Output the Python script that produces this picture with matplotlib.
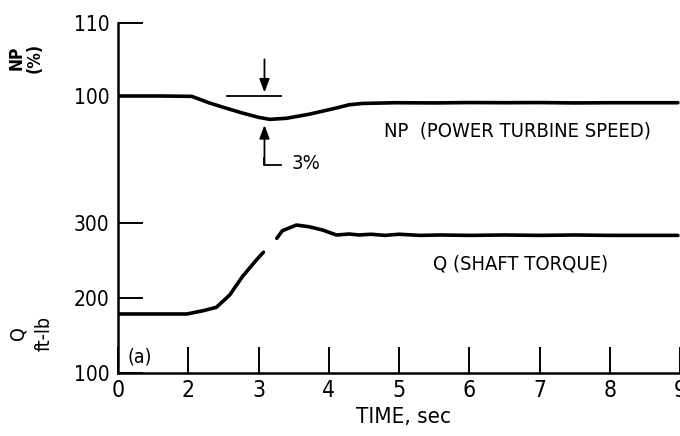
import numpy as np
import matplotlib
matplotlib.use("Agg")
import matplotlib.pyplot as plt

# ---- data ----
np_time = [1.0, 1.6, 2.05, 2.30, 2.55, 2.77, 3.0, 3.16, 3.40, 3.72, 4.11, 4.29, 4.48,
           4.96, 5.5, 6.0, 6.5, 7.0, 7.5, 8.0, 8.5, 8.97]
np_vals = [100.0, 100.0, 99.95, 99.05, 98.3, 97.67, 97.08, 96.8, 96.95, 97.5, 98.36,
           98.8, 98.98, 99.08, 99.05, 99.1, 99.08, 99.1, 99.05, 99.08, 99.08, 99.08]

q_time = [1.0, 1.5, 1.98, 2.21, 2.40, 2.59, 2.77, 2.97, 3.07, 3.16, 3.26, 3.34, 3.54,
          3.72, 3.91, 4.11, 4.29, 4.43, 4.6, 4.8, 5.0, 5.3, 5.6, 6.0, 6.5, 7.0, 7.5,
          8.0, 8.5, 8.97]
q_vals = [178.7, 178.7, 178.7, 183.0, 187.6, 204.0, 228.4, 250.7, 261.0, np.nan, 279.6,
          289.7, 297.3, 295.0, 290.7, 284.0, 285.3, 284.0, 285.0, 283.5, 285.0, 283.5,
          284.0, 283.5, 284.0, 283.5, 284.0, 283.5, 283.5, 283.5]

x_tick_pos = [1, 2, 3, 4, 5, 6, 7, 8, 9]
x_tick_labels = ["0", "2", "3", "4", "5", "6", "7", "8", "9"]
q_ticks = [100, 200, 300]
np_ticks = [100, 110]

plt.rcParams["font.family"] = ["DejaVu Sans"]
plt.rcParams["font.stretch"] = "condensed"

fig = plt.figure(figsize=(6.8, 4.36), dpi=100)
rect = [118 / 680, 63 / 436, 562 / 680, 350 / 436]

ax = fig.add_axes(rect)
ax_np = fig.add_axes(rect, frameon=False, sharex=ax)

ax.set_xlim(1, 1 + 562 / 70.5)
ax.set_ylim(100, 100 + 350 / 0.75)
ax_np.set_ylim(110 - 350 / 7.3, 110)

for s in ["top", "right"]:
    ax.spines[s].set_visible(False)
for s in ["left", "bottom"]:
    ax.spines[s].set_linewidth(1.8)

lw = 2.6
ax.plot(q_time, q_vals, color="black", lw=lw, solid_capstyle="round",
        solid_joinstyle="round")
ax_np.plot(np_time, np_vals, color="black", lw=lw, solid_capstyle="round",
           solid_joinstyle="round")

ax.set_xticks(x_tick_pos)
ax.set_xticklabels(x_tick_labels)
ax.tick_params(axis="x", direction="in", length=19, width=1.4, pad=4,
               labelsize=16.5)
ax.set_yticks(q_ticks)
ax.set_yticklabels([str(v) for v in q_ticks])
ax.tick_params(axis="y", direction="in", length=18, width=1.4, pad=6,
               labelsize=15)

ax_np.set_yticks(np_ticks)
ax_np.set_yticklabels([str(v) for v in np_ticks])
ax_np.tick_params(axis="y", direction="in", length=18, width=1.4, pad=6,
                  labelsize=15, left=True, right=False)
ax_np.tick_params(axis="x", bottom=False, labelbottom=False)
for lab in ax.get_xticklabels() + ax.get_yticklabels() + ax_np.get_yticklabels():
    lab.set_fontstretch("condensed")

# annotations (NP axis coordinates)
ax_np.plot([2.546, 3.326], [100, 100], color="black", lw=1.3)
ax_np.annotate("", xy=(3.085, 100.1), xytext=(3.085, 105.4),
               arrowprops=dict(arrowstyle="-|>,head_length=0.8,head_width=0.3",
                               color="black", lw=1.3))
ax_np.annotate("", xy=(3.085, 96.4), xytext=(3.085, 90.55),
               arrowprops=dict(arrowstyle="-|>,head_length=0.8,head_width=0.3",
                               color="black", lw=1.3, shrinkA=0))
ax_np.plot([3.085, 3.085, 3.326], [91.5, 90.55, 90.55], color="black", lw=1.3)
ax_np.text(3.68, 90.8, "3%", fontsize=14.5, va="center", ha="center",
           fontstretch="condensed")

ax_np.text(6.68, 95.2, "NP  (POWER TURBINE SPEED)", fontsize=14.5, va="center",
           ha="center", fontstretch="condensed")
ax.text(6.73, 246, "Q (SHAFT TORQUE)", fontsize=14.5, va="center", ha="center",
        fontstretch="condensed")
ax.text(1.14, 121, "(a)", fontsize=14, va="center", ha="left",
        fontstretch="condensed")

fig.text(404 / 680, 1 - 417 / 436, "TIME, sec", fontsize=16, ha="center",
         va="center", fontstretch="condensed")
fig.text(26 / 680, 1 - 58 / 436, "NP\n(%)", fontsize=12.5, rotation=90,
         ha="center", va="center", linespacing=1.0, fontweight="bold",
         fontstretch="condensed")
fig.text(31 / 680, 1 - 333 / 436, "Q\nft-lb", fontsize=14, rotation=90,
         ha="center", va="center", linespacing=1.45, fontstretch="condensed")

fig.savefig("out.png", dpi=100)
